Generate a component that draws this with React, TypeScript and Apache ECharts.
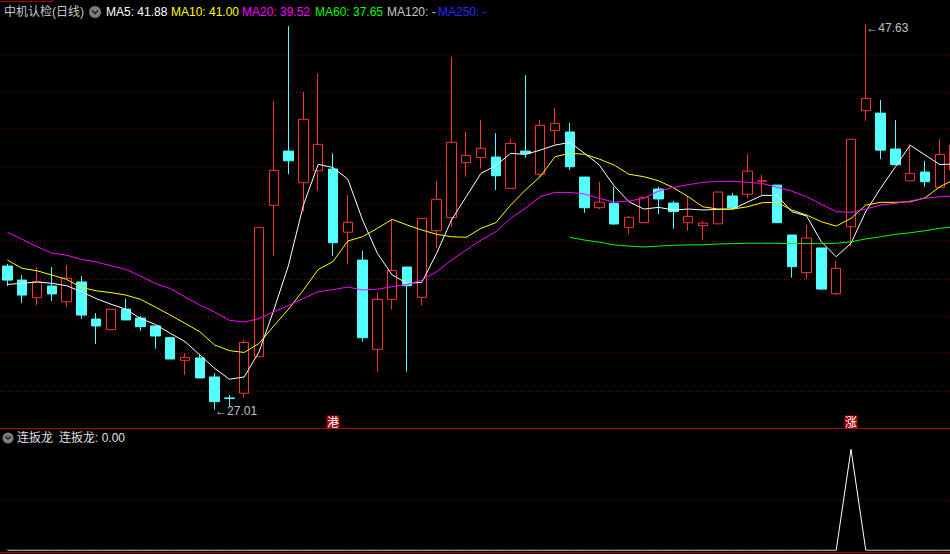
import React, { useEffect, useRef } from 'react';
import * as echarts from 'echarts';

// ---- candle data (price) ----
const opens = [34.68, 33.93, 32.99, 33.61, 32.77, 33.83, 31.85, 31.28, 32.38, 31.90,
  31.48, 30.85, 29.64, 29.77, 28.75, 27.63, 27.88, 29.83, 37.93, 40.83,
  39.14, 39.78, 39.87, 36.49, 35.00, 30.23, 32.90, 34.63, 33.01, 36.57,
  37.27, 40.21, 40.49, 40.51, 38.84, 40.83, 39.59, 41.92, 41.85, 39.44,
  37.80, 38.04, 36.75, 37.00, 38.80, 38.05, 37.00, 36.84, 36.94, 38.43,
  38.52, 39.22, 39.01, 36.34, 34.33, 35.65, 33.20, 36.78, 42.99, 42.86,
  40.94, 39.24, 39.71, 38.89, 39.82];
const closes = [33.93, 33.13, 33.84, 33.19, 34.03, 32.06, 31.48, 32.37, 31.80, 31.44,
  30.94, 29.71, 29.80, 28.70, 27.43, 27.60, 30.60, 36.75, 39.80, 40.31,
  42.53, 41.19, 35.93, 37.02, 30.85, 32.90, 34.45, 33.63, 37.23, 38.25,
  41.30, 40.60, 40.98, 39.51, 41.24, 40.71, 42.21, 42.31, 39.99, 37.80,
  38.09, 36.93, 37.29, 38.36, 38.27, 37.59, 37.34, 36.98, 38.64, 37.80,
  39.76, 39.24, 37.00, 34.65, 36.18, 33.45, 34.56, 41.46, 43.65, 40.88,
  40.10, 39.64, 39.19, 40.65, 41.15];
const highs = [34.79, 34.20, 34.61, 34.63, 34.74, 34.15, 32.17, 32.37, 32.94, 32.01,
  31.50, 30.89, 30.02, 29.96, 28.95, 27.79, 30.73, 36.75, 43.50, 47.51,
  43.99, 44.98, 40.71, 38.48, 35.49, 33.26, 37.20, 34.63, 37.23, 39.23,
  45.87, 41.85, 42.49, 41.79, 41.47, 44.89, 42.49, 43.13, 42.33, 39.44,
  39.17, 38.92, 37.36, 38.36, 38.92, 38.16, 38.43, 37.09, 38.64, 38.59,
  40.67, 39.55, 39.01, 36.34, 36.88, 35.65, 34.95, 41.46, 47.63, 43.56,
  42.49, 41.19, 40.30, 41.47, 41.42];
const lows = [33.61, 32.71, 32.60, 32.81, 32.51, 31.85, 30.51, 31.28, 31.80, 31.22,
  30.26, 29.71, 28.86, 28.70, 27.01, 27.16, 27.66, 29.83, 35.23, 39.59,
  37.59, 38.71, 35.23, 34.77, 30.64, 29.03, 32.37, 29.03, 32.60, 35.66,
  36.75, 39.46, 39.89, 38.75, 38.84, 40.47, 39.43, 41.21, 39.82, 37.53,
  37.73, 36.88, 36.39, 37.00, 37.46, 36.68, 36.57, 36.09, 36.94, 37.73,
  38.33, 38.46, 37.00, 34.06, 33.97, 33.40, 33.13, 35.72, 42.45, 40.40,
  40.10, 39.24, 38.92, 38.89, 39.71];

// ---- moving averages ----
const ma5 = [33.70, 33.76, 33.83, 33.76, 33.63, 33.31, 32.94, 32.64, 32.37, 31.87,
  31.56, 31.09, 30.64, 29.93, 29.21, 28.63, 28.75, 30.09, 32.33, 34.74,
  37.94, 40.12, 39.95, 39.33, 37.14, 35.36, 34.20, 33.76, 33.81, 35.36,
  37.14, 38.39, 39.64, 40.05, 40.71, 40.65, 40.88, 41.15, 41.29, 40.71,
  40.08, 38.96, 38.12, 37.73, 37.82, 37.68, 37.73, 37.68, 37.71, 37.73,
  38.10, 38.46, 38.46, 37.59, 37.36, 35.98, 35.18, 35.90, 37.60, 38.84,
  39.99, 41.15, 40.62, 40.11, 40.14];
const ma10 = [35.00, 34.56, 34.43, 34.20, 33.97, 33.54, 33.36, 33.26, 33.13, 32.90,
  32.49, 32.06, 31.62, 31.17, 30.46, 30.16, 30.06, 30.54, 31.48, 32.38,
  33.40, 34.50, 34.92, 36.02, 36.25, 36.70, 37.18, 36.88, 36.61, 36.38,
  36.25, 36.22, 36.70, 37.00, 37.94, 38.75, 39.46, 40.53, 40.71, 40.66,
  40.40, 40.08, 39.59, 39.46, 39.24, 38.87, 38.39, 37.85, 37.73, 37.73,
  37.85, 38.07, 38.09, 37.68, 37.41, 37.05, 36.82, 37.23, 37.94, 38.09,
  38.09, 38.12, 38.33, 38.92, 39.32];
const ma20 = [36.49, 36.11, 35.72, 35.38, 35.26, 35.04, 34.90, 34.70, 34.50, 34.15,
  33.75, 33.48, 33.03, 32.60, 32.22, 31.78, 31.69, 31.87, 32.24, 32.57,
  32.95, 33.31, 33.42, 33.56, 33.40, 33.44, 33.58, 33.70, 33.93, 34.38,
  35.00, 35.54, 36.07, 36.52, 37.23, 37.77, 38.39, 38.62, 38.62, 38.53,
  38.30, 38.10, 38.16, 38.30, 38.69, 38.89, 39.03, 39.16, 39.21, 39.21,
  39.16, 39.10, 38.89, 38.69, 38.39, 37.98, 37.59, 37.55, 37.73, 37.94,
  38.04, 38.16, 38.30, 38.39, 38.43];
const ma60 = [null, null, null, null, null, null, null, null, null, null,
  null, null, null, null, null, null, null, null, null, null,
  null, null, null, null, null, null, null, null, null, null,
  null, null, null, null, null, null, null, null, 36.22, 36.07,
  35.96, 35.81, 35.75, 35.70, 35.75, 35.79, 35.81, 35.82, 35.86, 35.88,
  35.90, 35.90, 35.90, 35.88, 35.88, 35.88, 35.90, 35.98, 36.13, 36.25,
  36.38, 36.46, 36.57, 36.70, 36.77];

// ---- lower indicator (连扳龙) ----
const lianBanLong = [0, 0, 0, 0, 0, 0, 0, 0, 0, 0,
  0, 0, 0, 0, 0, 0, 0, 0, 0, 0,
  0, 0, 0, 0, 0, 0, 0, 0, 0, 0,
  0, 0, 0, 0, 0, 0, 0, 0, 0, 0,
  0, 0, 0, 0, 0, 0, 0, 0, 0, 0,
  0, 0, 0, 0, 0, 0, 0, 1, 0, 0,
  0, 0, 0, 0, 0];

// ---- signal markers under candles ----
const signalIndex = [22, 57];
const signalText = ['港', '涨'];

// ---- header texts ----
const stockTitle = '中机认检(日线)';
const maLabels = ['MA5: 41.88', 'MA10: 41.00', 'MA20: 39.52', 'MA60: 37.65', 'MA120: -', 'MA250: -'];
const maLabelColors = ['#ffffff', '#ffff00', '#ff00ff', '#00ff00', '#c8c8c8', '#2828ff'];
const maLabelX = [106, 171, 242, 315, 387, 438];
const indicatorTitle = '连扳龙';
const indicatorValue = '连扳龙: 0.00';

const categories = opens.map((_, i) => String(i + 1));

const UP = '#ff3232';
const DOWN = '#54ffff';
const GRIDLINE = '#8c0000';
const FONT = '"Liberation Sans", "Noto Sans CJK SC", sans-serif';

export default function App() {
  const ref = useRef<HTMLDivElement>(null);
  useEffect(() => {
    if (!ref.current) return;
    document.documentElement.style.overflow = 'hidden';
    document.body.style.overflow = 'hidden';
    const chart = echarts.init(ref.current, undefined, { renderer: 'svg' });
    const candleData = opens.map((o, i) => [o, closes[i], lows[i], highs[i]]);
    let hiIdx = 0;
    let loIdx = 0;
    highs.forEach((h, i) => { if (h > highs[hiIdx]) hiIdx = i; });
    lows.forEach((l, i) => { if (l < lows[loIdx]) loIdx = i; });

    const markLabel = {
      show: true,
      position: 'right',
      distance: 0,
      color: '#c0c0c0',
      fontSize: 12,
      fontFamily: FONT,
      formatter: (p: any) => '\u2190' + p.value.toFixed(2),
    };

    const option: any = {
      animation: false,
      backgroundColor: '#000000',
      grid: [
        { left: -1, right: 0, top: 17, height: 411.4 },
        { left: -1, right: 0, top: 449.3, height: 101 },
      ],
      xAxis: [
        {
          type: 'category', gridIndex: 0, data: categories, boundaryGap: true,
          axisLine: { show: true, lineStyle: { color: '#b40000', width: 1 } },
          axisTick: { show: false },
          splitLine: { show: false },
          axisLabel: {
            show: true, inside: true, margin: 0, interval: 0,
            formatter: (_v: string, i: number) => {
              const k = signalIndex.indexOf(i);
              return k >= 0 ? '{m|' + signalText[k] + '}' : '';
            },
            rich: {
              m: {
                color: '#ffffff', backgroundColor: '#a00000', fontSize: 12,
                lineHeight: 13, height: 13, width: 13, align: 'center',
                fontFamily: '"Noto Sans CJK SC", sans-serif',
              },
            },
          },
        },
        {
          type: 'category', gridIndex: 1, data: categories, boundaryGap: true,
          axisLine: { show: false }, axisTick: { show: false }, axisLabel: { show: false },
          splitLine: { show: false },
        },
      ],
      yAxis: [
        {
          type: 'value', gridIndex: 0, min: 26, max: 48, interval: 2, scale: false,
          axisLine: { show: false }, axisTick: { show: false }, axisLabel: { show: false },
          splitLine: { show: true, showMinLine: false, showMaxLine: false, lineStyle: { color: GRIDLINE, width: 1, type: [1, 3] } },
        },
        {
          type: 'value', gridIndex: 1, min: 0, max: 1, interval: 0.5,
          axisLine: { show: false }, axisTick: { show: false }, axisLabel: { show: false },
          splitLine: { show: true, showMinLine: false, showMaxLine: false, lineStyle: { color: GRIDLINE, width: 1, type: [1, 3] } },
        },
      ],
      series: [
        {
          type: 'candlestick', xAxisIndex: 0, yAxisIndex: 0, barWidth: 10,
          data: candleData,
          itemStyle: { color: '#000000', color0: DOWN, borderColor: UP, borderColor0: DOWN, borderWidth: 1 },
          markPoint: {
            symbol: 'circle', symbolSize: 1,
            itemStyle: { color: 'rgba(0,0,0,0)' },
            label: markLabel,
            data: [
              { coord: [loIdx, lows[loIdx]], value: lows[loIdx], label: { offset: [0, 1] } },
              { coord: [hiIdx, highs[hiIdx]], value: highs[hiIdx], label: { offset: [0, 4] } },
            ],
          },
        },
        { type: 'line', name: 'MA5', data: ma5, xAxisIndex: 0, yAxisIndex: 0, showSymbol: false, lineStyle: { color: '#ffffff', width: 1 }, itemStyle: { color: '#ffffff' } },
        { type: 'line', name: 'MA10', data: ma10, xAxisIndex: 0, yAxisIndex: 0, showSymbol: false, lineStyle: { color: '#ffff00', width: 1 }, itemStyle: { color: '#ffff00' } },
        { type: 'line', name: 'MA20', data: ma20, xAxisIndex: 0, yAxisIndex: 0, showSymbol: false, lineStyle: { color: '#ff00ff', width: 1 }, itemStyle: { color: '#ff00ff' } },
        { type: 'line', name: 'MA60', data: ma60, xAxisIndex: 0, yAxisIndex: 0, showSymbol: false, connectNulls: false, lineStyle: { color: '#00ff00', width: 1 }, itemStyle: { color: '#00ff00' } },
        { type: 'line', name: indicatorTitle, data: lianBanLong, xAxisIndex: 1, yAxisIndex: 1, showSymbol: false, lineStyle: { color: '#ffffff', width: 1 }, itemStyle: { color: '#ffffff' } },
      ],
      graphic: [
        { type: 'line', shape: { x1: 0, y1: 552.5, x2: 950, y2: 552.5 }, style: { stroke: '#b40000', lineWidth: 1 } },
        { type: 'polyline', shape: { points: [[0, 1.5], [52.5, 1.5], [52.5, 0]] }, style: { stroke: '#b40000', lineWidth: 1, fill: null } },
        { type: 'text', x: 4, y: 12, style: { text: stockTitle, fill: '#c8c8c8', font: '12px ' + FONT, verticalAlign: 'middle' } },
        { type: 'circle', shape: { cx: 95, cy: 12, r: 6 }, style: { fill: '#7c7c7c' } },
        { type: 'polyline', shape: { points: [[92, 10.5], [95, 13.5], [98, 10.5]] }, style: { stroke: '#1c1c1c', lineWidth: 1.5, fill: null } },
        ...maLabels.map((t, i) => ({
          type: 'text', x: maLabelX[i], y: 12,
          style: { text: t, fill: maLabelColors[i], font: '12px ' + FONT, verticalAlign: 'middle' },
        })),
        { type: 'circle', shape: { cx: 8, cy: 438, r: 5.5 }, style: { fill: '#7c7c7c' } },
        { type: 'polyline', shape: { points: [[5.5, 436.5], [8, 439], [10.5, 436.5]] }, style: { stroke: '#1c1c1c', lineWidth: 1.5, fill: null } },
        { type: 'text', x: 17, y: 438, style: { text: indicatorTitle, fill: '#e0e0e0', font: '12px ' + FONT, verticalAlign: 'middle' } },
        { type: 'text', x: 59, y: 438, style: { text: indicatorValue, fill: '#e0e0e0', font: '12px ' + FONT, verticalAlign: 'middle' } },
      ],
    };
    chart.setOption(option);
    return () => chart.dispose();
  }, []);
  return (
    <div
      ref={ref}
      style={{ position: 'fixed', left: 0, top: 0, width: 962, height: 554, background: '#000' }}
    />
  );
}
